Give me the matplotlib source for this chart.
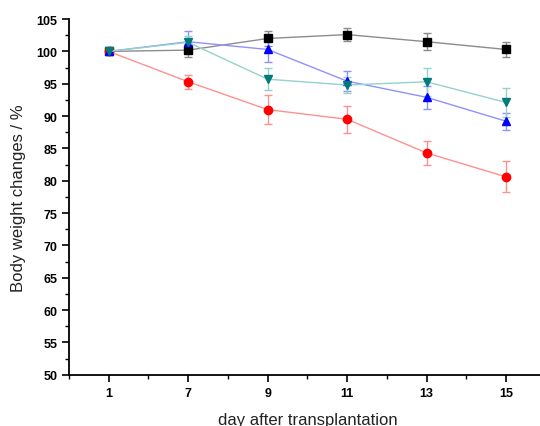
import numpy as np
import matplotlib
matplotlib.use('Agg')
import matplotlib.pyplot as plt
from matplotlib.ticker import MultipleLocator

plt.rcParams['font.family'] = ['Liberation Sans', 'DejaVu Sans']

#day labels on the categorical x axis
days = ['1', '7', '9', '11', '13', '15']

#body weight change (%) and error for each group
blackVals = [100.0, 100.2, 102.0, 102.6, 101.5, 100.3]
blackErr = [0.3, 1.0, 1.1, 1.0, 1.3, 1.1]
redVals = [100.0, 95.3, 91.0, 89.5, 84.3, 80.6]
redErr = [0.3, 1.1, 2.3, 2.1, 1.8, 2.4]
blueVals = [100.0, 101.5, 100.3, 95.4, 92.9, 89.2]
blueErr = [0.3, 1.7, 2.0, 1.5, 1.8, 1.3]
tealVals = [100.0, 101.4, 95.7, 94.8, 95.3, 92.1]
tealErr = [0.3, 1.0, 1.7, 1.3, 2.2, 2.3]

fig = plt.figure(figsize=(5.4, 4.27), dpi=100)
ax = fig.add_axes([0.1278, 0.120, 0.883, 0.833])

x = np.arange(len(days))

#(values, errors, marker, marker colour, line colour)
series = [
    (blackVals, blackErr, 's', '#000000', '#8c8c8c'),
    (redVals, redErr, 'o', '#ff0000', '#ff9090'),
    (blueVals, blueErr, '^', '#0000ff', '#9090ff'),
    (tealVals, tealErr, 'v', '#007a7a', '#95d2ca'),
]

for vals, errs, mk, mc, lc in series:
    ax.errorbar(x, vals, yerr=errs, color=lc, ecolor=lc, elinewidth=1.0,
                capsize=3, capthick=1.0, linewidth=1.0, marker=mk,
                markersize=6, markerfacecolor=mc, markeredgecolor=mc, zorder=3)

ax.set_xlim(-0.5, 5.5)
ax.set_ylim(50, 105)
ax.set_xticks(x)
ax.set_xticklabels(days)
ax.set_xticks(np.append(x + 0.5, -0.5), minor=True)
ax.yaxis.set_major_locator(MultipleLocator(5))
ax.yaxis.set_minor_locator(MultipleLocator(2.5))

for side in ['top', 'right']:
    ax.spines[side].set_visible(False)
for side in ['left', 'bottom']:
    ax.spines[side].set_linewidth(1.3)

ax.tick_params(which='major', direction='out', length=5, width=1.2,
               labelsize=9)
ax.tick_params(which='minor', direction='out', length=3, width=1.0)
for lab in ax.get_xticklabels() + ax.get_yticklabels():
    lab.set_fontweight('bold')

ax.set_xlabel('day after transplantation', fontsize=12, color='#222222',
              labelpad=10)
ax.set_ylabel('Body weight changes / %', fontsize=12, color='#222222',
              labelpad=7)

fig.savefig('out.png', dpi=100)
